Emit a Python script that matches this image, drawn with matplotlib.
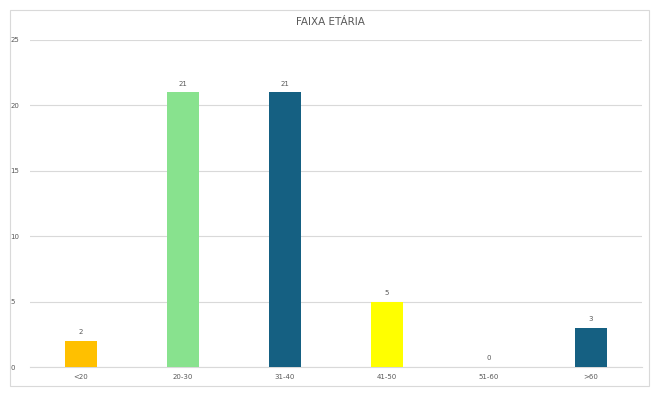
import matplotlib.pyplot as plt
from matplotlib.patches import Rectangle

categories = ['<20', '20-30', '31-40', '41-50', '51-60', '>60']
values = [2, 21, 21, 5, 0, 3]
bar_colors = ['#FFC000', '#88E28E', '#156082', '#FFFF00', '#156082', '#156082']
y_ticks = [0, 5, 10, 15, 20, 25]

text_color = '#595959'
grid_color = '#D9D9D9'

fig = plt.figure(figsize=(6.61, 3.95), dpi=100)
fig.patch.set_facecolor('white')

# outer chart frame
fig.patches.append(Rectangle((10 / 661, 9 / 395), 639 / 661, 376 / 395,
                             transform=fig.transFigure, fill=False,
                             edgecolor=grid_color, linewidth=0.8))

ax = fig.add_axes([30 / 661, 1 - 367 / 395, 612 / 661, 327 / 395])
x = list(range(len(categories)))
bars = ax.bar(x, values, width=0.31, color=bar_colors, zorder=3)

for xi, v in zip(x, values):
    ax.annotate(str(v), xy=(xi, v), xytext=(0, 4), textcoords='offset points',
                ha='center', va='bottom', fontsize=5, color=text_color)

ax.set_xlim(-0.5, len(categories) - 0.5)
ax.set_ylim(0, 25)
ax.set_yticks(y_ticks)
ax.set_xticks(x)
ax.set_xticklabels(categories)
ax.tick_params(axis='both', length=0, labelsize=5, colors=text_color)
ax.tick_params(axis='y', pad=14)
ax.tick_params(axis='x', pad=5)
for lbl in ax.get_yticklabels():
    lbl.set_horizontalalignment('left')

ax.yaxis.grid(True, color=grid_color, linewidth=0.8, zorder=0)
for side in ['top', 'right', 'left']:
    ax.spines[side].set_visible(False)
ax.spines['bottom'].set_color(grid_color)
ax.spines['bottom'].set_linewidth(0.8)

fig.text(0.5, 1 - 22 / 395, 'FAIXA ETÁRIA', ha='center', va='center',
         fontsize=7.5, color=text_color)

fig.savefig('out.png', dpi=100)
